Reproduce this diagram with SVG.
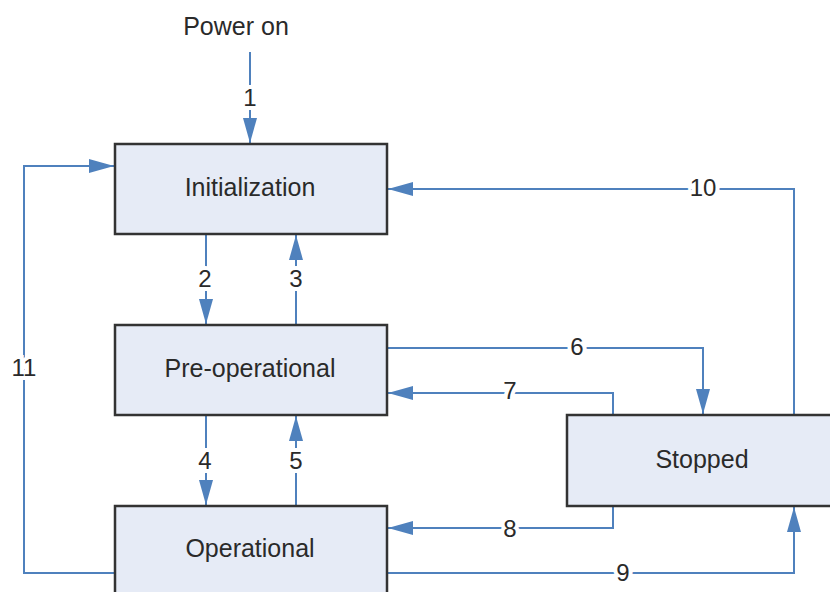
<svg xmlns="http://www.w3.org/2000/svg" width="830" height="592" viewBox="0 0 830 592">
<style>
.box{fill:#e6ebf6;stroke:#333;stroke-width:2.5}
.t{font-family:"Liberation Sans",Arial,sans-serif;font-size:25px;fill:#2a2a2a;text-anchor:middle;dominant-baseline:central}
.l{font-family:"Liberation Sans",Arial,sans-serif;font-size:24px;fill:#2a2a2a;text-anchor:middle;dominant-baseline:central;stroke:#fff;stroke-width:8px;paint-order:stroke}
.c{fill:none;stroke:#4f81bd;stroke-width:2}
.a{marker-end:url(#ah)}
</style>
<defs>
<marker id="ah" markerUnits="userSpaceOnUse" markerWidth="28" markerHeight="16" refX="25" refY="7" orient="auto">
<path d="M0,0 L25,7 L0,14 z" fill="#4f81bd"/>
</marker>
</defs>
<rect width="830" height="592" fill="#fff"/>
<g id="connectors">
<path class="c a" d="M250,52 L250,143"/>
<path class="c a" d="M206,234 L206,324"/>
<path class="c a" d="M296,325 L296,235"/>
<path class="c a" d="M206,415 L206,505"/>
<path class="c a" d="M296,506 L296,416"/>
<path class="c a" d="M794,415 L794,189 L388,189"/>
<path class="c a" d="M387,348 L703,348 L703,414"/>
<path class="c a" d="M613,415 L613,393 L388,393"/>
<path class="c a" d="M613,506 L613,528 L388,528"/>
<path class="c a" d="M387,573 L794,573 L794,507"/>
<path class="c a" d="M115,573 L24,573 L24,166 L114,166"/>
<text class="l" x="250" y="97">1</text>
<text class="l" x="205" y="278">2</text>
<text class="l" x="296" y="278">3</text>
<text class="l" x="205" y="460">4</text>
<text class="l" x="296" y="460">5</text>
<text class="l" x="577" y="346">6</text>
<text class="l" x="510" y="390">7</text>
<text class="l" x="510" y="528">8</text>
<text class="l" x="623" y="572">9</text>
<text class="l" x="703" y="187">10</text>
<text class="l" x="24" y="367">11</text>
</g>
<g id="power-on">
<text class="t" x="236" y="26">Power on</text>
</g>
<g id="initialization">
<rect class="box" x="115" y="144" width="272" height="90"/>
<text class="t" x="250" y="187">Initialization</text>
</g>
<g id="pre-operational">
<rect class="box" x="115" y="325" width="272" height="90"/>
<text class="t" x="250" y="368">Pre-operational</text>
</g>
<g id="operational">
<rect class="box" x="115" y="506" width="272" height="100"/>
<text class="t" x="250" y="548">Operational</text>
</g>
<g id="stopped">
<rect class="box" x="567" y="415" width="275" height="91"/>
<text class="t" x="702" y="459">Stopped</text>
</g>
</svg>
